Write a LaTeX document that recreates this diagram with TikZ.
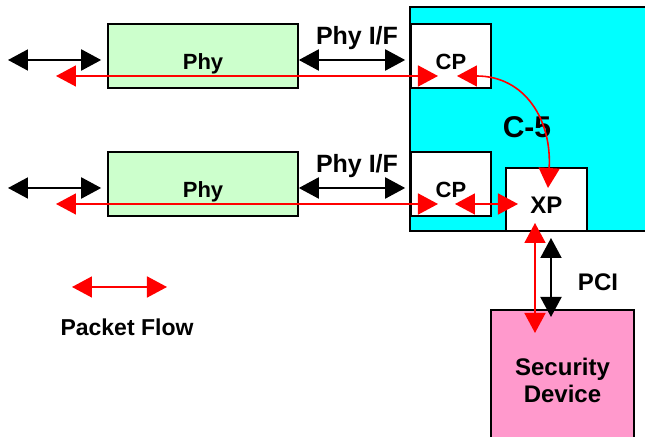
\documentclass[tikz,border=0pt]{standalone}
\usepackage{fontspec}
\setmainfont{Liberation Sans}
\usetikzlibrary{arrows.meta}
\definecolor{phygreen}{RGB}{204,255,204}
\definecolor{chipcyan}{RGB}{0,255,255}
\definecolor{secpink}{RGB}{255,153,204}
\definecolor{flowred}{RGB}{255,0,0}
\tikzset{
  blk/.style={
    draw=black, line width=0.8pt, align=center, inner sep=0pt,
    font=\fontsize{11}{13}\selectfont\bfseries
  },
  lowtxt/.style={text height=14pt, text depth=0pt},
  lbl/.style={inner sep=0pt, align=center, font=\fontsize{12}{14}\selectfont\bfseries},
  link/.style={draw=black, line width=1pt, {Triangle[length=10pt,width=10.5pt]}-{Triangle[length=10pt,width=10.5pt]}},
  flow/.style={draw=flowred, line width=0.8pt, {Triangle[length=10pt,width=10.5pt]}-{Triangle[length=10pt,width=10.5pt]}}
}

\begin{document}
\begin{tikzpicture}[x=0.5pt, y=-0.5pt]
    \useasboundingbox (0,0) rectangle (645,437);

    % The C-5 chip with its processors.
    \node[blk, fill=chipcyan, minimum width=125pt, minimum height=112pt] (c5) at (535,119) {};
    \node[lbl, font=\fontsize{15}{17}\selectfont\bfseries] (c5lbl) at (527,127) {C-5};
    \node[blk, lowtxt, fill=white, minimum width=40pt, minimum height=32pt] (cpa) at (451,56) {CP};
    \node[blk, lowtxt, fill=white, minimum width=40pt, minimum height=32pt] (cpb) at (451,184) {CP};
    \node[blk, lowtxt, fill=white, minimum width=40.5pt, minimum height=31.5pt,
      font=\fontsize{12}{14}\selectfont\bfseries] (xp) at (546.5,199.5) {XP};

    % The two Phy devices.
    \node[blk, lowtxt, fill=phygreen, minimum width=95pt, minimum height=32pt] (phya) at (203,56) {Phy};
    \node[blk, lowtxt, fill=phygreen, minimum width=95pt, minimum height=32pt] (phyb) at (203,184) {Phy};

    % Security device hanging off PCI.
    \node[blk, fill=secpink, minimum width=71.5pt, minimum height=70pt,
      font=\fontsize{12}{13.5}\selectfont\bfseries] (sec) at (562.5,380) {Security\\Device};

    % Labels.
    \node[lbl, font=\fontsize{12.5}{14}\selectfont\bfseries] (ifa) at (357,38) {Phy I/F};
    \node[lbl, font=\fontsize{12.5}{14}\selectfont\bfseries] (ifb) at (357,166) {Phy I/F};
    \node[lbl] (pci) at (598,282) {PCI};
    \node[lbl, font=\fontsize{11.5}{14}\selectfont\bfseries] (legtxt) at (127,327) {Packet Flow};

    % Free ends of the connectors.
    \coordinate (extA) at (8,60);
    \coordinate (extB) at (8,188);
    \coordinate (flA) at (56,76);
    \coordinate (flB) at (56,204);
    \coordinate (flAend) at (438,76);
    \coordinate (flBend) at (438,204);
    \coordinate (loopA) at (457,76);
    \coordinate (loopB) at (548,188);
    \coordinate (cxA) at (455,204);
    \coordinate (cxB) at (518,204);
    \coordinate (pciRa) at (535,223);
    \coordinate (pciRb) at (535,333);
    \coordinate (pciKa) at (551,238);
    \coordinate (pciKb) at (551,317);
    \coordinate (legL) at (72,287);
    \coordinate (legR) at (167,287);

    % Black interfaces.
    \draw[link] (extA) -- ([xshift=-3pt,yshift=-2pt]phya.west);
    \draw[link] (extB) -- ([xshift=-3pt,yshift=-2pt]phyb.west);
    \draw[link] ([yshift=-2pt]phya.east) -- ([xshift=-2.5pt,yshift=-2pt]cpa.west);
    \draw[link] ([yshift=-2pt]phyb.east) -- ([xshift=-2.5pt,yshift=-2pt]cpb.west);
    \draw[link] (pciKa) -- (pciKb);

    % Packet flow.
    \draw[flow] (flA) -- (flAend);
    \draw[flow] (flB) -- (flBend);
    \draw[flow] (loopA) .. controls (525,76) and (552,120) .. (loopB);
    \draw[flow] (cxA) -- (cxB);
    \draw[flow] (pciRa) -- (pciRb);
    \draw[flow] (legL) -- (legR);
  \end{tikzpicture}
\end{document}
